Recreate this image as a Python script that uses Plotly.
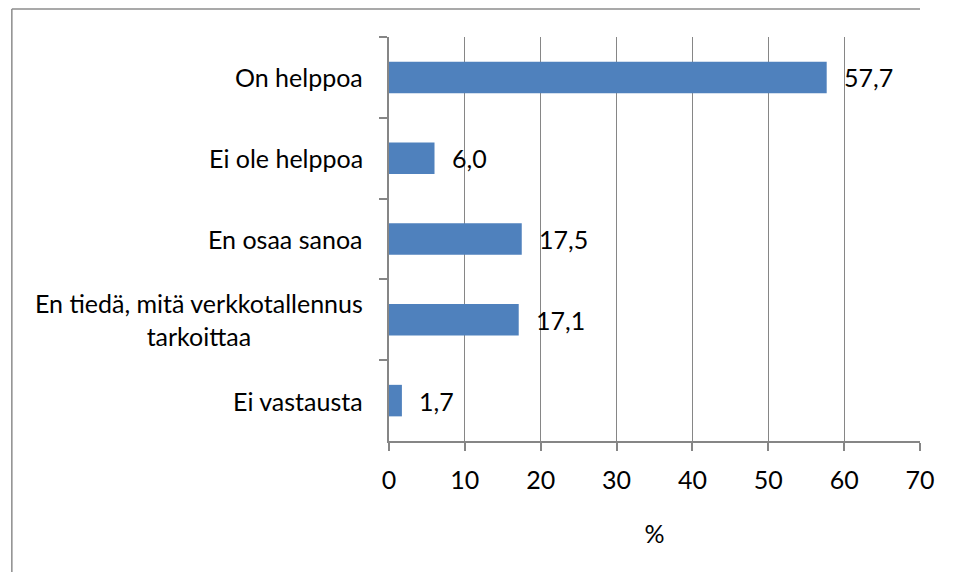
import plotly.graph_objects as go

categories = ["On helppoa", "Ei ole helppoa", "En osaa sanoa",
              "En tiedä, mitä verkkotallennus<br>tarkoittaa", "Ei vastausta"]
values = [57.7, 6.0, 17.5, 17.1, 1.7]
value_labels = ["57,7", "6,0", "17,5", "17,1", "1,7"]
x_ticks = [0, 10, 20, 30, 40, 50, 60, 70]
x_title = "%"

FONT = "Lato"
FS = 25
GRID = "#868686"
OFF = 8  # page body margin
W, H = 955 - 2 * OFF, 580 - 2 * OFF
ML, MT = 389 - OFF, 37 - OFF
MR = (OFF + W) - 924
MB = (OFF + H) - 441
PW, PH = W - ML - MR, H - MT - MB

fig = go.Figure(go.Bar(
    y=categories, x=values, orientation="h",
    marker=dict(color="#4F81BD", line=dict(width=0)),
    width=0.39,
    hoverinfo="skip",
))

annotations = []
for c, v, t in zip(categories, values, value_labels):
    annotations.append(dict(x=v, y=c, xref="x", yref="y", text=t, showarrow=False,
                            xanchor="left", yanchor="middle", xshift=15,
                            font=dict(family=FONT, size=FS, color="black")))
    annotations.append(dict(x=0, y=c, xref="paper", yref="y", text=c, showarrow=False,
                            xanchor="right", yanchor="middle", xshift=-24, align="center",
                            font=dict(family=FONT, size=FS, color="black")))

bx = (1 - ML) / PW
by = 1 + (MT - 1) / PH
fig.update_layout(
    width=W, height=H,
    margin=dict(l=ML, r=MR, t=MT, b=MB, pad=0),
    paper_bgcolor="white", plot_bgcolor="white",
    showlegend=False,
    font=dict(family=FONT, size=FS, color="black"),
    annotations=annotations,
    xaxis=dict(
        range=[0, 70], tickvals=x_ticks, ticktext=[str(t) for t in x_ticks],
        showgrid=True, gridcolor=GRID, gridwidth=1,
        showline=True, linecolor=GRID, linewidth=1.5,
        ticks="outside", ticklen=8, tickcolor=GRID, tickwidth=1.5,
        zeroline=False,
        tickfont=dict(family=FONT, size=FS, color="black"),
        ticklabelstandoff=8,
        title=dict(text=x_title, font=dict(family=FONT, size=FS, color="black"), standoff=33),
        fixedrange=True,
    ),
    yaxis=dict(
        autorange="reversed",
        showline=True, linecolor=GRID, linewidth=1.5,
        ticks="outside", ticklen=8, tickcolor=GRID, tickwidth=1.5,
        tickson="boundaries",
        showticklabels=False, showgrid=False, zeroline=False,
        fixedrange=True,
    ),
    shapes=[
        dict(type="line", xref="paper", yref="paper",
             x0=bx, x1=1.0, y0=by, y1=by,
             line=dict(color="#8C8C8C", width=1.5)),
        dict(type="line", xref="paper", yref="paper",
             x0=bx, x1=bx, y0=by, y1=-MB / PH,
             line=dict(color="#8C8C8C", width=1.5)),
    ],
)

fig.write_html("out.html")
